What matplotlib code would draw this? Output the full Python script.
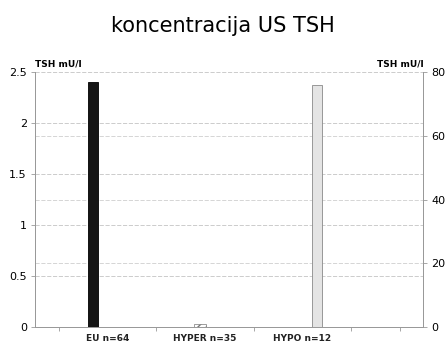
import matplotlib.pyplot as plt
import numpy as np

groups = ["EU n=64", "HYPER n=35", "HYPO n=12"]
tsh_left = [2.4, 0.03, 0.0]     # left axis, mU/l
tsh_right = [0.0, 0.0, 76.0]    # right axis, mU/l
left_ticks = [0, 0.5, 1, 1.5, 2, 2.5]
right_ticks = [0, 20, 40, 60, 80]

fig = plt.figure(figsize=(4.45, 3.44), dpi=100)
ax = fig.add_axes([0.079, 0.049, 0.872, 0.742])
ax2 = ax.twinx()

label_pos = np.array([1, 2, 3])
bar_pos = label_pos + np.array([-0.15, -0.05, 0.15])

# grid lines from both scales, under the bars
for v in left_ticks[1:]:
    ax.axhline(v, color="#c4c4c4", lw=0.6, ls=(0, (5, 2)), zorder=1)
for v in right_ticks[1:-1]:
    ax.axhline(v / 80 * 2.5, color="#cfcfcf", lw=0.6, ls=(0, (5, 2)), zorder=1)

ax.bar(bar_pos[0], tsh_left[0], width=0.1, color="#151515", edgecolor="#000000", lw=0.6, zorder=3)
ax.bar(bar_pos[1], tsh_left[1], width=0.12, color="white", edgecolor="#777777",
       hatch="////", lw=0.5, zorder=3)
ax2.bar(bar_pos[2], tsh_right[2], width=0.1, color="#e4e4e4", edgecolor="#8a8a8a", lw=0.6, zorder=3)

ax.set_xlim(0.256, 4.24)
ax.set_ylim(0, 2.5)
ax2.set_ylim(0, 80)

ax.set_yticks(left_ticks)
ax.set_yticklabels(["0", "0.5", "1", "1.5", "2", "2.5"])
ax2.set_yticks(right_ticks)
ax.set_xticks(label_pos)
ax.set_xticklabels(groups)
ax.set_xticks(np.linspace(0.5, 4.0, 8), minor=True)

for a in (ax, ax2):
    for s in a.spines.values():
        s.set_color("#999999")
        s.set_linewidth(0.7)
    a.spines["top"].set_visible(False)
    a.tick_params(axis="y", length=3, width=0.6, color="#999999", labelsize=8, pad=3)
ax.tick_params(axis="x", which="major", length=0, labelsize=6.5, pad=5)
ax.tick_params(axis="x", which="minor", length=3, width=0.6, color="#999999")
for t in ax.get_xticklabels():
    t.set_fontweight("bold")
    t.set_color("#222222")

fig.text(0.5, 0.925, "koncentracija US TSH", ha="center", va="center", fontsize=15)
fig.text(0.079, 0.815, "TSH mU/l", ha="left", va="center", fontsize=6.5, fontweight="bold")
fig.text(0.951, 0.815, "TSH mU/l", ha="right", va="center", fontsize=6.5, fontweight="bold")

fig.savefig("out.png", dpi=100)
